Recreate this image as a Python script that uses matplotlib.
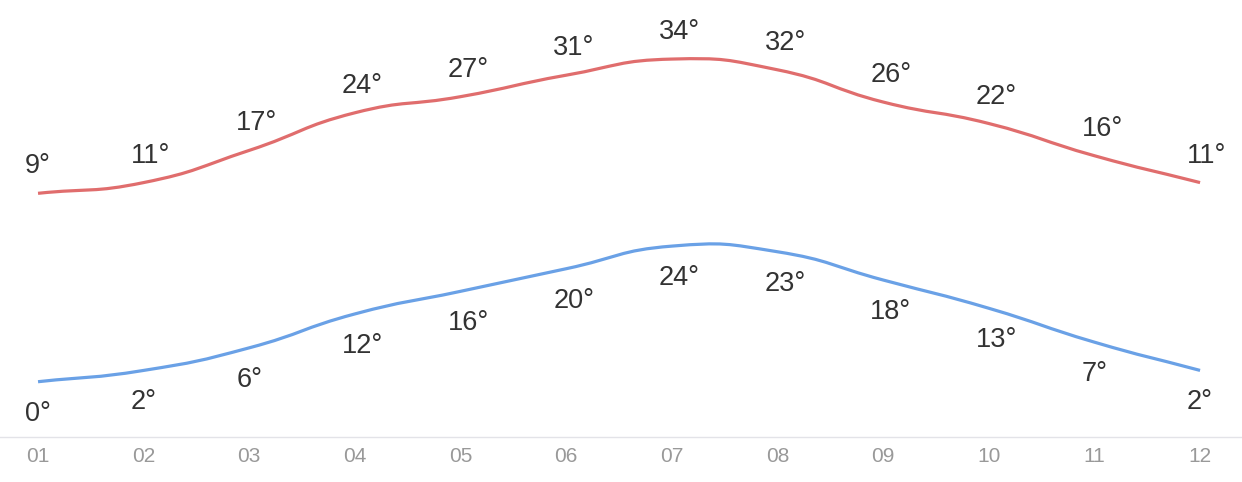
import numpy as np
import matplotlib as mplib
mplib.use('Agg')
import matplotlib.pyplot as plt
from matplotlib.path import Path
from matplotlib.patches import PathPatch

months = ['01', '02', '03', '04', '05', '06', '07', '08', '09', '10', '11', '12']
high = [9, 11, 17, 24, 27, 31, 34, 32, 26, 22, 16, 11]
low = [0, 2, 6, 12, 16, 20, 24, 23, 18, 13, 7, 2]

plt.rcParams['font.family'] = ['Liberation Sans', 'DejaVu Sans']


def smooth_path(ax, xs, ys, smooth=0.5):
    # echarts-like bezier smoothing, worked out in display space
    pts = ax.transData.transform(np.column_stack([xs, ys]))
    n = len(pts)
    verts = [pts[0]]
    codes = [Path.MOVETO]
    cps = []
    for i in range(n):
        p = pts[i]
        prev = pts[i - 1] if i > 0 else p
        nxt = pts[i + 1] if i < n - 1 else p
        v = nxt - prev
        l0 = np.hypot(*(p - prev))
        l1 = np.hypot(*(nxt - p))
        r = l1 / (l0 + l1) if (l0 + l1) > 0 else 0.5
        cps.append((p - v * smooth * (1 - r), p + v * smooth * r))
    for i in range(1, n):
        verts += [cps[i - 1][1], cps[i][0], pts[i]]
        codes += [Path.CURVE4] * 3
    verts = ax.transData.inverted().transform(np.array(verts))
    return Path(verts, codes)


fig = plt.figure(figsize=(12.42, 4.82), dpi=100)
ax_hi = fig.add_axes([0, 0, 1, 1])
ax_lo = fig.add_axes([0, 0, 1, 1])
x = np.arange(1, len(months) + 1)

for ax in (ax_hi, ax_lo):
    ax.set_xlim(0.640, 12.397)
    ax.axis('off')
    ax.patch.set_alpha(0)
ax_hi.set_ylim(-44.76, 45.0)
ax_lo.set_ylim(-17.75, 67.56)

red = '#E06D6D'
blue = '#6AA1E6'
ax_hi.add_patch(PathPatch(smooth_path(ax_hi, x, high), fill=False,
                          edgecolor=red, linewidth=2.3, capstyle='butt'))
ax_lo.add_patch(PathPatch(smooth_path(ax_lo, x, low), fill=False,
                          edgecolor=blue, linewidth=2.3, capstyle='butt'))

for xi, v in zip(x, high):
    ax_hi.annotate(f'{v}°', (xi, v), xytext=(-13, 20), textcoords='offset pixels',
                   ha='left', va='baseline', fontsize=19.5, color='#333333')
for xi, v in zip(x, low):
    ax_lo.annotate(f'{v}°', (xi, v), xytext=(-13, -39), textcoords='offset pixels',
                   ha='left', va='baseline', fontsize=19.5, color='#333333')

# x axis line and month labels
ax_lo.plot([0.640, 12.39], [-17.75 + (482 - 436.7) / 5.65] * 2,
           color='#E3E3E8', linewidth=1)
for xi, m in zip(x, months):
    ax_lo.annotate(m, (xi, -17.75), xytext=(0, 482 - 462), textcoords='offset pixels',
                   ha='center', va='baseline', fontsize=15, color='#999999')

plt.savefig('out.png', dpi=100)
plt.close('all')
